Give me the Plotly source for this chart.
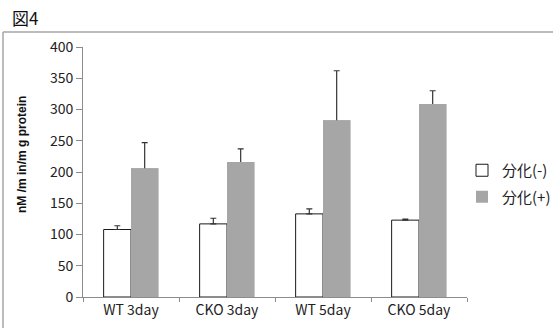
import plotly.graph_objects as go

categories = ["WT 3day", "CKO 3day", "WT 5day", "CKO 5day"]
series_names = ["分化(-)", "分化(+)"]
values_minus = [108, 117, 133, 123]
err_minus = [6, 9, 8, 1.5]
values_plus = [206, 216, 283, 309]
err_plus = [41, 21, 79, 21]
y_ticks = [0, 50, 100, 150, 200, 250, 300, 350, 400]

W, H = 553, 328
# plot-area pixel box
X0, X1, Y0, Y1 = 83, 467, 47, 297

def fx(x):
    return x / W

def fy(y):
    return 1 - y / H

GRAY = "#A6A6A6"
ERR_COLOR = "#333333"

fig = go.Figure()
fig.add_trace(go.Bar(
    x=categories, y=values_minus, name=series_names[0],
    marker=dict(color="white", line=dict(color="#1a1a1a", width=1)),
    error_y=dict(type="data", array=err_minus, arrayminus=[0]*4, symmetric=False,
                 color=ERR_COLOR, thickness=1.2, width=3),
    legendgroup="a", offsetgroup="a",
))
fig.add_trace(go.Bar(
    x=categories, y=values_plus, name=series_names[1],
    marker=dict(color=GRAY, line=dict(width=0)),
    error_y=dict(type="data", array=err_plus, arrayminus=[4]*4, symmetric=False,
                 color=ERR_COLOR, thickness=1.2, width=3),
    legendgroup="b", offsetgroup="b",
))
# same bars drawn again on top so only the upper half of each error bar shows
fig.add_trace(go.Bar(
    x=categories, y=values_plus, name=series_names[1],
    marker=dict(color=GRAY, line=dict(width=0)),
    legendgroup="b", offsetgroup="b", showlegend=False, hoverinfo="skip",
))

font_main = "Noto Sans CJK JP"
fig.update_layout(
    width=W, height=H,
    margin=dict(l=0, r=0, t=0, b=0, autoexpand=False),
    paper_bgcolor="white", plot_bgcolor="white",
    barmode="group", bargap=0.43, bargroupgap=0,
    showlegend=True,
    legend=dict(x=fx(462), y=fy(154), xanchor="left", yanchor="top",
                font=dict(family=font_main, size=15, color="#222222"),
                bgcolor="rgba(0,0,0,0)", itemwidth=30, tracegroupgap=4,
                traceorder="grouped"),
    font=dict(family=font_main, size=14, color="#222222"),
    xaxis=dict(
        domain=[fx(X0), fx(X1)], automargin=False,
        type="category", range=[-0.5, 3.5], tickson="boundaries",
        ticks="outside", ticklen=4, tickcolor="#8c8c8c",
        showline=True, linecolor="#8c8c8c", linewidth=1,
        showgrid=False, zeroline=False,
        tickfont=dict(family=font_main, size=14, color="#222222"),
    ),
    yaxis=dict(
        domain=[fy(Y1), fy(Y0)], automargin=False,
        range=[0, 400], tickvals=y_ticks,
        ticks="outside", ticklen=6, tickcolor="#8c8c8c",
        showline=True, linecolor="#8c8c8c", linewidth=1,
        showgrid=False, zeroline=False,
        tickfont=dict(family=font_main, size=14, color="#222222"),
    ),
    annotations=[
        dict(text="図4", x=fx(10), y=fy(17), xref="paper", yref="paper",
             xanchor="left", yanchor="middle", showarrow=False,
             font=dict(family=font_main, size=17, color="#111111")),
        dict(text="<b>nM /m in/m g protein</b>", x=fx(22), y=fy(155),
             xref="paper", yref="paper", xanchor="center", yanchor="middle",
             textangle=-90, showarrow=False,
             font=dict(family="Liberation Sans", size=12, color="#111111")),
    ],
    shapes=[
        dict(type="line", xref="paper", yref="paper",
             x0=fx(3), x1=fx(553), y0=fy(32), y1=fy(32),
             line=dict(color="#a6a6a6", width=1.5)),
        dict(type="line", xref="paper", yref="paper",
             x0=fx(3), x1=fx(3), y0=fy(32), y1=fy(328),
             line=dict(color="#a6a6a6", width=1.5)),
    ],
)

fig.write_html("out.html", config={"displayModeBar": False},
               post_script="document.body.style.margin='0';document.body.style.padding='0';")
